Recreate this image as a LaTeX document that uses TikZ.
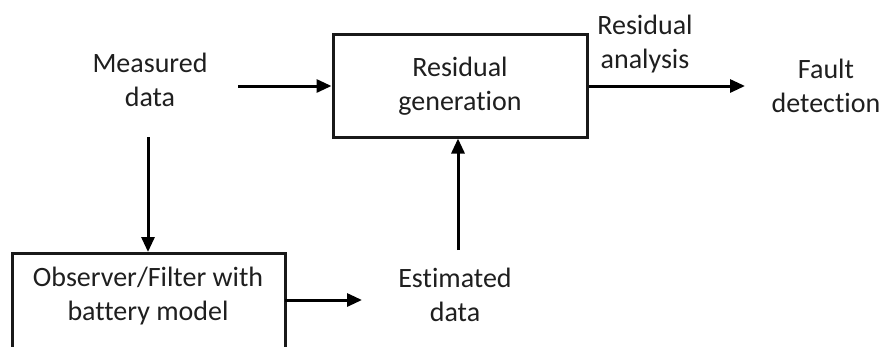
\documentclass[tikz,border=0pt]{standalone}
\usepackage{fontspec}
\setmainfont{Carlito}[Ligatures={NoCommon,NoContextual}]
\usetikzlibrary{arrows.meta}
\begin{document}
\begin{tikzpicture}[x=1pt,y=-1pt,
  lbl/.style={align=center,font=\fontsize{28}{34.5}\selectfont,text=black!88,inner sep=0pt},
  blk/.style={draw=black!90,line width=3pt,inner sep=0pt},
  arr/.style={line width=3pt,-{Triangle[length=15pt,width=13pt]}}]
\clip (0,0) rectangle (884,346);
\fill[white] (0,0) rectangle (884,346);
% blocks
\node[blk,minimum width=254pt,minimum height=103pt] (rg) at (460,85.5) {};
\node[lbl] (rgt) at (460,86) {Residual\\generation};
\node[blk,minimum width=273pt,minimum height=140pt,anchor=north] (obs) at (148.5,252) {};
\node[lbl] (obst) at (148,296) {Observer/Filter with\\battery model};
% labels
\node[lbl] (meas) at (150,80) {Measured\\data};
\node[lbl] (est) at (455,295) {Estimated\\data};
\node[lbl] (ra) at (645,44) {Residual\\analysis};
\node[lbl] (fd) at (826,86) {Fault\\detection};
% connector ends
\coordinate (m1) at (238,86);
\coordinate (m2) at (148,137);
\coordinate (o1) at (285,300);
\coordinate (o2) at (362,300);
\coordinate (e1) at (458,250);
\coordinate (f1) at (745,86);
% connectors
\draw[arr] (m1) -- (m1 -| rg.west);
\draw[arr] (m2) -- (m2 |- obs.north);
\draw[arr] (o1) -- (o2);
\draw[arr] (e1) -- (e1 |- rg.south);
\draw[arr] (f1 -| rg.east) -- (f1);
\end{tikzpicture}
\end{document}
